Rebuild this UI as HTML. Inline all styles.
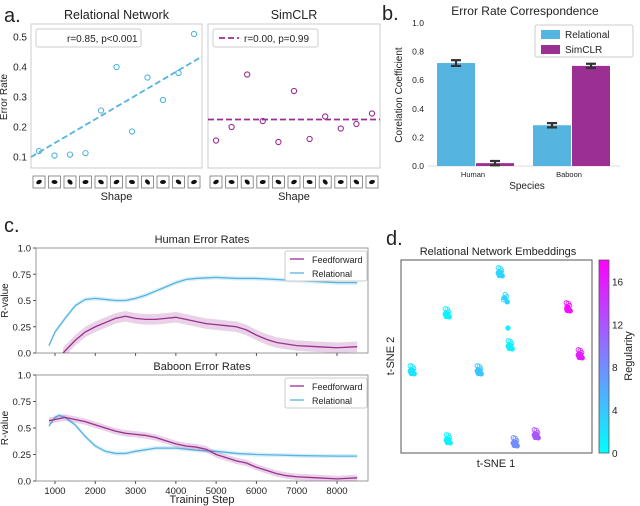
<!DOCTYPE html>
<html><head><meta charset="utf-8"><style>
body{margin:0;background:#fff}
svg{display:block;font-family:"Liberation Sans","DejaVu Sans",sans-serif}
</style></head><body>
<svg id="fig" width="640" height="506" viewBox="0 0 640 506" xmlns="http://www.w3.org/2000/svg">
<g id="root"></g>
</svg>
<script>
// ---- data ----
const shapeIdx=[1,2,3,4,5,6,7,8,9,10,11];
const relErr=[0.12,0.105,0.108,0.113,0.255,0.40,0.185,0.365,0.29,0.38,0.51];
const relFit=[0.10,0.435];
const simErr=[0.155,0.20,0.375,0.22,0.15,0.32,0.16,0.235,0.195,0.21,0.245];
const simFit=[0.225,0.225];
const aTicks=[0.1,0.2,0.3,0.4,0.5];
const species=["Human","Baboon"];
const barRel=[0.72,0.285];
const barSim=[0.02,0.70];
const barRelErr=[0.02,0.015];
const barSimErr=[0.015,0.015];
const bTicks=[0,0.2,0.4,0.6,0.8,1.0];
const hSteps=[850,1000,1250,1500,1750,2000,2250,2500,2750,3000,3250,3500,3750,4000,4250,4500,5000,5500,6000,6500,7000,7500,8000,8500];
const hRel=[0.07,0.2,0.33,0.45,0.51,0.52,0.51,0.5,0.5,0.52,0.55,0.59,0.63,0.67,0.7,0.71,0.72,0.71,0.71,0.70,0.69,0.68,0.67,0.67];
const hFFSteps=[1200,1500,1750,2000,2250,2500,2750,3000,3250,3500,3750,4000,4250,4500,4750,5000,5250,5500,5750,6000,6250,6500,7000,7500,8000,8500];
const hFF=[0,0.12,0.2,0.25,0.29,0.33,0.35,0.33,0.32,0.32,0.33,0.34,0.32,0.3,0.28,0.27,0.26,0.25,0.22,0.17,0.13,0.1,0.07,0.06,0.05,0.06];
const bRelSteps=[850,1000,1100,1250,1500,1750,2000,2250,2500,2750,3000,3500,4000,4500,5000,5500,6000,6500,7000,8000,8500];
const bRel=[0.52,0.6,0.62,0.6,0.53,0.42,0.33,0.28,0.26,0.26,0.28,0.31,0.31,0.29,0.28,0.26,0.25,0.245,0.24,0.235,0.235];
const bFFSteps=[850,1000,1250,1500,1750,2000,2250,2500,2750,3000,3250,3500,3750,4000,4250,4500,4750,5000,5250,5500,5750,6000,6250,6500,6750,7000,7500,8000,8500];
const bFF=[0.57,0.58,0.6,0.58,0.56,0.53,0.5,0.47,0.45,0.44,0.43,0.41,0.38,0.35,0.33,0.32,0.3,0.25,0.22,0.19,0.17,0.13,0.1,0.07,0.05,0.04,0.03,0.02,0.03];
const cXTicks=[1000,2000,3000,4000,5000,6000,7000,8000];
const cYTicks=[0,0.25,0.5,0.75,1.0];
const cYLabels=["0.0","0.25","0.5","0.75","1.0"];
const clusterX=[500,505,447,508,510,412,479,568,580,448,515,536];
const clusterY=[272,298,313,328,345,370,370,307,354,439,442,434];
const clusterReg=[3,3,1,1,1,2,4,17,16,1,8,12];
const clusterN=[10,6,10,1,10,10,10,8,10,10,10,10];
const cbTicks=[0,4,8,12,16];

// ---- helpers ----
const NS="http://www.w3.org/2000/svg";
const root=document.getElementById('root');
function el(tag,attrs,parent,text){const e=document.createElementNS(NS,tag);for(const k in attrs)e.setAttribute(k,attrs[k]);if(text!==undefined)e.textContent=text;(parent||root).appendChild(e);return e;}
function txt(x,y,s,size,anchor,name,extra){const t=el('text',Object.assign({x:x,y:y,'font-size':size,'text-anchor':anchor||'middle',fill:'#222'},extra||{}),root,s);


return t;}
function lin(d0,d1,r0,r1){return v=>r0+(v-d0)*(r1-r0)/(d1-d0);}
function mix(a,b,t){return a.map((v,i)=>Math.round(v+(b[i]-v)*t));}
function cmap(v){const t=Math.max(0,Math.min(1,v/18));const c=mix([0,255,255],[255,0,255],t);return `rgb(${c[0]},${c[1]},${c[2]})`;}
const BLUE="#56b4e0",PURP="#9b2f92";

// ---- panel a ----
txt(4,22,"a.",20,'start','panel-a-label');
const ay=lin(0.1,0.5,157,37);
function panelA(x0,x1,title,data,fit,color,legend,name){
  const g=el('g',{},root);
  
  
  const fr=el('rect',{x:x0,y:24,width:x1-x0,height:144,fill:'#fff',stroke:'#ccc','stroke-width':1},g);
  
  
  txt((x0+x1)/2,19,title,12.5,'middle',name+'-title');
  const ax=lin(1,11,x0+8,x1-8);
  const xs=lin(0,1,x0,x1);
  const fl=el('line',{x1:xs(0),y1:ay(fit[0]),x2:xs(1),y2:ay(fit[1]),stroke:color,'stroke-width':1.8,'stroke-dasharray':'6,3'},g);
  
  
  data.forEach((v,i)=>{const c=el('circle',{cx:ax(shapeIdx[i]),cy:ay(v),r:2.6,fill:'none',stroke:color,'stroke-width':1.1},g);
    
    
    const th=el('rect',{x:ax(shapeIdx[i])-6,y:176,width:12,height:12,fill:'#fff',stroke:'#777','stroke-width':0.8},g);
    
    
    const bl=el('ellipse',{cx:ax(shapeIdx[i]),cy:182,rx:3,ry:2,fill:'#111',transform:`rotate(${(i*37)%90-30} ${ax(shapeIdx[i])} 182)`},g);
    
    
  });
  const lb=el('rect',{x:x0+5,y:29,width:105,height:18,fill:'#fff',stroke:'#ccc',rx:2},g);
  
  
  if(legend[1]){const ll=el('line',{x1:x0+11,y1:38,x2:x0+31,y2:38,stroke:color,'stroke-width':1.8,'stroke-dasharray':'6,3'},g);
    
    }
  txt(x0+36,42,legend[0],10,'start',name+'-legend-text');
  txt((x0+x1)/2,200,"Shape",11,'middle',name+'-x-title');
}
panelA(31,202,"Relational Network",relErr,relFit,BLUE,["r=0.85, p<0.001",false],'relational-scatter');
panelA(208,380,"SimCLR",simErr,simFit,PURP,["r=0.00, p=0.99",true],'simclr-scatter');
aTicks.forEach(v=>txt(27,ay(v)+3.5,v.toFixed(1),10,'end','a-y-tick'));
txt(7,97,"Error Rate",10,'middle','a-y-title',{transform:'rotate(-90 7 97)'});

// ---- panel b ----
txt(382,20,"b.",20,'start','panel-b-label');
txt(525,15,"Error Rate Correspondence",12,'middle','b-title');
const by=lin(0,1,166,23);
const bAxis=el('line',{x1:428,y1:166,x2:620,y2:166,stroke:'#ddd','stroke-width':1});


bTicks.forEach(v=>txt(424,by(v)+3,v.toFixed(1),8.5,'end','b-y-tick'));
const groupC=[475,571],bw=38;
function errbar(x,v,e){const g=el('g',{stroke:'#333','stroke-width':2.2});
  
  
  el('line',{x1:x,y1:by(v+e),x2:x,y2:by(v-e)},g);
  el('line',{x1:x-5,y1:by(v+e),x2:x+5,y2:by(v+e)},g);
  el('line',{x1:x-5,y1:by(v-e),x2:x+5,y2:by(v-e)},g);}
species.forEach((s,i)=>{
  const r1=el('rect',{x:groupC[i]-bw,y:by(barRel[i]),width:bw,height:by(0)-by(barRel[i]),fill:BLUE});
  
  
  const r2=el('rect',{x:groupC[i]+1,y:by(barSim[i]),width:bw,height:by(0)-by(barSim[i]),fill:PURP});
  
  
  errbar(groupC[i]-bw/2,barRel[i],barRelErr[i]);
  errbar(groupC[i]+1+bw/2,barSim[i],barSimErr[i]);
  txt(groupC[i]-2,177,s,7.5,'middle','b-x-tick');
});
txt(527,189,"Species",10,'middle','b-x-title');
txt(402,95,"Corelation Coefficient",10,'middle','b-y-title',{transform:'rotate(-90 402 95)'});
const blg=el('rect',{x:535,y:25,width:98,height:32,fill:'#fff',stroke:'#ccc',rx:2});


const s1=el('rect',{x:541,y:30,width:19,height:9,fill:BLUE});
const s2=el('rect',{x:541,y:45,width:19,height:9,fill:PURP});
txt(565,38,"Relational",10,'start','legend-entry-relational');
txt(565,53,"SimCLR",10,'start','legend-entry-simclr');

// ---- panel c ----
txt(4,232,"c.",20,'start','panel-c-label');
const cx=lin(1000,8000,55,337);
function panelC(top,bot,title,series,name,showX){
  const cy=lin(0,1,bot,top);
  const fr=el('rect',{x:36,y:top,width:332,height:bot-top,fill:'#fff',stroke:'#999','stroke-width':1});
  
  
  txt(202,top-5,title,11,'middle',name+'-title');
  cYTicks.forEach((v,i)=>{txt(31,cy(v)+3.5,cYLabels[i],9.5,'end',name+'-y-tick');
    const t=el('line',{x1:33,y1:cy(v),x2:36,y2:cy(v),stroke:'#555'});});
  txt(8,(top+bot)/2,"R-value",10,'middle',name+'-y-title',{transform:`rotate(-90 8 ${(top+bot)/2})`});
  const cl=el('clipPath',{id:'clip'+name});el('rect',{x:36,y:top,width:332,height:bot-top},cl);
  series.forEach(s=>{
    const up=s.xs.map((x,i)=>`${cx(x)},${cy(s.ys[i]+s.band)}`);
    const dn=s.xs.map((x,i)=>`${cx(x)},${cy(s.ys[i]-s.band)}`).reverse();
    const b=el('polygon',{points:up.concat(dn).join(' '),fill:s.color,opacity:0.22,'clip-path':`url(#clip${name})`});
    
    
    const l=el('polyline',{points:s.xs.map((x,i)=>`${cx(x)},${cy(s.ys[i])}`).join(' '),fill:'none',stroke:s.color,'stroke-width':1.3,'clip-path':`url(#clip${name})`});
    
    
  });
  const lg=el('rect',{x:285,y:top+3,width:82,height:30,fill:'#fff',stroke:'#ccc',rx:2});
  
  
  const l1=el('line',{x1:290,y1:top+11,x2:304,y2:top+11,stroke:PURP,'stroke-width':1.3});
  const l2=el('line',{x1:290,y1:top+25,x2:304,y2:top+25,stroke:BLUE,'stroke-width':1.3});
  txt(312,top+15,"Feedforward",9,'start','legend-entry-feedforward');
  txt(312,top+29,"Relational",9,'start','legend-entry-relational');
  cXTicks.forEach(v=>{const t=el('line',{x1:cx(v),y1:bot,x2:cx(v),y2:bot+3,stroke:'#555'});
    if(showX)txt(cx(v),bot+13,String(v),9.5,'middle',name+'-x-tick');});
}
panelC(248,353,"Human Error Rates",[{xs:hSteps,ys:hRel,band:0.02,color:BLUE,n:'relational'},{xs:hFFSteps,ys:hFF,band:0.05,color:PURP,n:'feedforward'}],'human-rates',false);
panelC(375,481,"Baboon Error Rates",[{xs:bRelSteps,ys:bRel,band:0.02,color:BLUE,n:'relational'},{xs:bFFSteps,ys:bFF,band:0.03,color:PURP,n:'feedforward'}],'baboon-rates',true);
txt(202,503,"Training Step",11,'middle','c-x-title');

// ---- panel d ----
txt(386,245,"d.",20,'start','panel-d-label');
txt(498,255,"Relational Network Embeddings",11,'middle','d-title');
const dfr=el('rect',{x:401,y:260,width:191,height:193,fill:'#fff',stroke:'#555','stroke-width':1});


clusterX.forEach((x,i)=>{
  const g=el('g',{});
  
  
  for(let k=0;k<clusterN[i];k++){const a=k*2.4,r=k?1+ (k%4)*0.9:0;
    el('circle',{cx:x+Math.cos(a)*r,cy:clusterY[i]+Math.sin(a)*r*1.3,r:2.2,fill:k%3?'none':cmap(clusterReg[i]),stroke:cmap(clusterReg[i]),'stroke-width':0.9},g);}
});
txt(496,467,"t-SNE 1",11,'middle','d-x-title');
txt(394,356,"t-SNE 2",11,'middle','d-y-title',{transform:'rotate(-90 394 356)'});
const gd=el('linearGradient',{id:'cbg',x1:0,y1:1,x2:0,y2:0});
el('stop',{offset:0,'stop-color':'#00ffff'},gd);el('stop',{offset:1,'stop-color':'#ff00ff'},gd);
const cb=el('rect',{x:599,y:260,width:10,height:193,fill:'url(#cbg)',stroke:'#555','stroke-width':0.8});


const cby=lin(0,18,453,260);
cbTicks.forEach(v=>txt(612,cby(v)+4,String(v),10,'start','colorbar-tick'));
txt(632,356,"Regularity",11,'middle','colorbar-title',{transform:'rotate(-90 632 356)'});
</script>
</body></html>
